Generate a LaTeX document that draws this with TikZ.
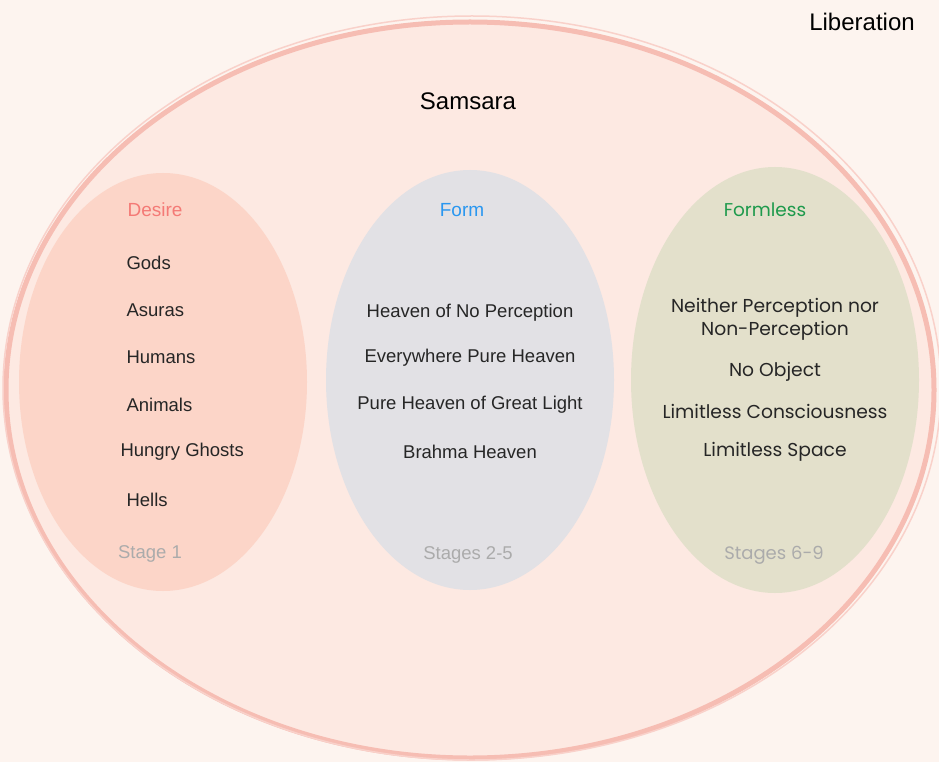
\documentclass[tikz,border=0pt]{standalone}
\usepackage{fontspec}
\setmainfont{Liberation Sans}
\newfontfamily\pop{Poppins}
\definecolor{bg}{HTML}{FDF4EF}
\definecolor{big}{HTML}{FDE9E2}
\definecolor{bigline}{HTML}{F6BDB3}
\definecolor{desfill}{HTML}{FCD5C8}
\definecolor{formfill}{HTML}{E2E1E5}
\definecolor{flfill}{HTML}{E3E0CB}
\definecolor{destit}{HTML}{F47A76}
\definecolor{formtit}{HTML}{2A97F0}
\definecolor{fltit}{HTML}{1E9A4C}
\definecolor{stage}{HTML}{ABABAB}
\begin{document}
\begin{tikzpicture}[x=1pt,y=-1pt,
  item/.style={font=\fontsize{18.5}{21}\selectfont, text=black!85},
  flitem/.style={font=\pop\fontsize{18.7}{22}\selectfont, text=black!85, align=center},
  tit/.style={font=\fontsize{19}{21}\selectfont},
  stg/.style={font=\fontsize{18.5}{21}\selectfont, text=stage}]
\fill[bg] (0,0) rectangle (939,762);
\useasboundingbox (0,0) rectangle (939,762);
\draw[bigline, line width=5pt, fill=big] (470,390) ellipse [x radius=464, y radius=368];
\draw[bigline!70, line width=1.5pt] (472,388) ellipse [x radius=469, y radius=372];
\node[font=\fontsize{24}{28}\selectfont] (lib) at (862,22) {Liberation};
\node[font=\fontsize{24}{28}\selectfont] (sam) at (468,101) {Samsara};
\fill[desfill] (163,382) ellipse [x radius=144, y radius=209];
\fill[formfill] (470,380) ellipse [x radius=144, y radius=210];
\fill[flfill] (775,380) ellipse [x radius=144, y radius=213];
\node[tit, text=destit] (des) at (155,210) {Desire};
\node[tit, text=formtit] (frm) at (462,210) {Form};
\node[tit, text=fltit, font=\pop\fontsize{18.5}{21}\selectfont] (fl) at (765,210) {Formless};
\node[item, anchor=west] (d1) at (123,263) {Gods};
\node[item, anchor=west] (d2) at (123,310) {Asuras};
\node[item, anchor=west] (d3) at (123,357) {Humans};
\node[item, anchor=west] (d4) at (123,405) {Animals};
\node[item, anchor=west] (d5) at (117,452) {Hungry Ghosts};
\node[item, anchor=west] (d6) at (123,500) {Hells};
\node[stg] (s1) at (150,554) {Stage 1};
\node[item] (f1) at (470,313) {Heaven of No Perception};
\node[item] (f2) at (470,358) {Everywhere Pure Heaven};
\node[item] (f3) at (470,405) {Pure Heaven of Great Light};
\node[item] (f4) at (470,452) {Brahma Heaven};
\node[stg] (s2) at (468,555) {Stages 2-5};
\node[flitem] (g1) at (775,319) {Neither Perception nor\\[1pt]Non-Perception};
\node[flitem] (g2) at (775,372) {No Object};
\node[flitem] (g3) at (775,411) {Limitless Consciousness};
\node[flitem] (g4) at (775,452) {Limitless Space};
\node[stg, font=\pop\fontsize{18}{21}\selectfont] (s3) at (774,555) {Stages 6-9};
\end{tikzpicture}
\end{document}
